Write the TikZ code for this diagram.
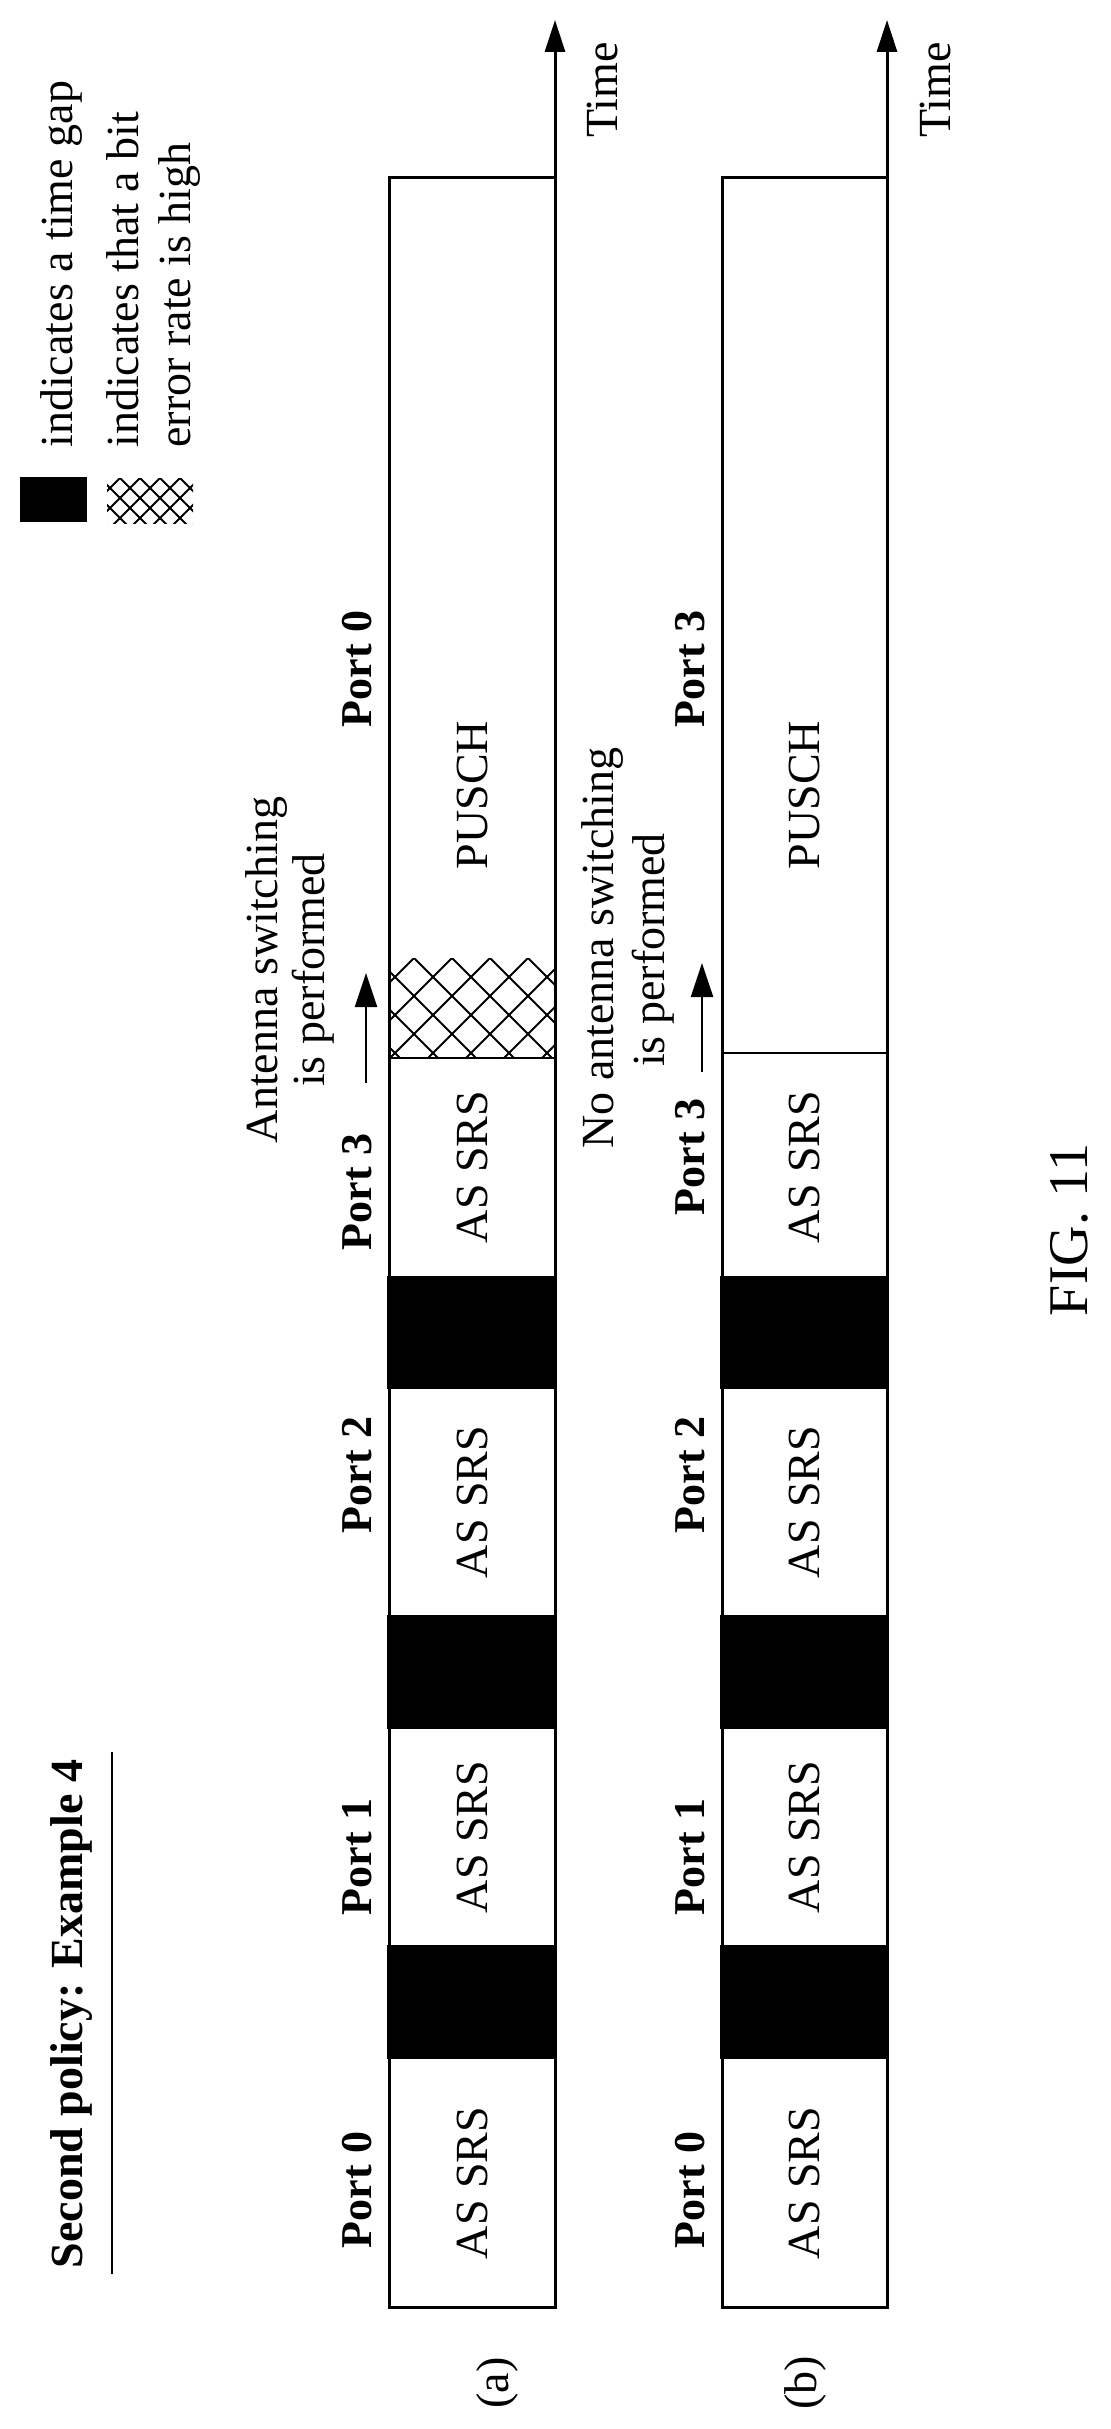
\documentclass[tikz,border=0pt]{standalone}
\usepackage{fontspec}
\setmainfont{Liberation Serif}
\usetikzlibrary{arrows.meta}
\begin{document}
\begin{tikzpicture}[x=0.5pt,y=-0.5pt,
  txt/.style={rotate=90,inner sep=0pt,font=\fontsize{23}{26}\selectfont},
  port/.style={rotate=90,inner sep=0pt,font=\bfseries\fontsize{22}{26}\selectfont},
  box/.style={draw,line width=1.5pt},
  gap/.style={fill=black},
  axis/.style={line width=1.5pt,-{Triangle[length=16pt,width=10pt]}},
  sw/.style={line width=1.2pt,-{Triangle[length=17pt,width=11pt]}},
  hatchl/.style={line width=1pt}]
\useasboundingbox (0,0) rectangle (1111,2429);
% legend
\fill (20,477) rectangle (87,522);
\begin{scope}
\clip (107,478) rectangle (193,523);
\foreach \i in {60,80,...,240} {\draw[hatchl] (\i,478) -- ++(50,50); \draw[hatchl] (\i,478) -- ++(-50,50);}
\end{scope}
\node[txt,anchor=west] (l1) at (62,448) {indicates a time gap};
\node[txt,anchor=west] (l2) at (123,448) {indicates that a bit};
\node[txt,anchor=west] (l3) at (180,448) {error rate is high};
% title
\node[rotate=90,inner sep=0pt,font=\bfseries\fontsize{23}{26}\selectfont] (title) at (72,2014) {Second policy: Example 4};
\draw[line width=1pt] (112,1752) -- (112,2274);
% boxes
\foreach \xl/\xr/\tag in {389/555/a,722/887/b} {
  \draw[box] (\xl,178) rectangle (\xr,2307);
  \foreach \ya/\yb in {1276/1389,1615/1729,1945/2059} {\fill (\xl-2,\ya) rectangle (\xr+2,\yb);}
  \coordinate (top\tag) at (\xr,178);
  \coordinate (tip\tag) at (\xr,20);
  \draw[axis] (top\tag) -- (tip\tag);
  \foreach \yc in {2183,1837,1502,1167} {\node[txt] at ({(\xl+\xr)/2},\yc) {AS SRS};}
  \node[txt] (pusch\tag) at ({(\xl+\xr)/2},795) {PUSCH};
}
% hatch in (a)
\begin{scope}
\clip (389,958) rectangle (555,1058);
\foreach \i in {300,338,...,700} {\draw[hatchl] (\i,958) -- ++(100,100); \draw[hatchl] (\i,958) -- ++(-100,100);}
\end{scope}
\draw[line width=1pt] (389,1058) -- (555,1058);
\draw[line width=1pt] (722,1053) -- (887,1053);
% time labels
\node[txt] (ta) at (602,90) {Time};
\node[txt] (tb) at (935,90) {Time};
% port labels
\foreach \x/\lab in {357/a,690/b} {
  \node[port] at (\x,2190) {Port 0};
  \node[port] at (\x,1857) {Port 1};
  \node[port] at (\x,1475) {Port 2};
}
\node[port] (p3a) at (357,1192) {Port 3};
\node[port] (p3b) at (690,1157) {Port 3};
\node[port] (p0top) at (357,669) {Port 0};
\node[port] (p3top) at (690,669) {Port 3};
% switching notes
\node[txt] (swa1) at (267,970) {Antenna switching};
\node[txt] (swa2) at (313,970) {is performed};
\node[txt] (swb1) at (602,948) {No antenna switching};
\node[txt] (swb2) at (653,950) {is performed};
\coordinate (a0) at (366,1083); \coordinate (a1) at (366,973);
\coordinate (b0) at (702,1072); \coordinate (b1) at (702,963);
\draw[sw] (a0) -- (a1);
\draw[sw] (b0) -- (b1);
% sub labels
\node[txt] (la) at (497,2383) {(a)};
\node[txt] (lb) at (805,2383) {(b)};
\node[rotate=90,inner sep=0pt,font=\fontsize{28}{30}\selectfont] (fig) at (1069,1230) {FIG. 11};
\end{tikzpicture}
\end{document}
